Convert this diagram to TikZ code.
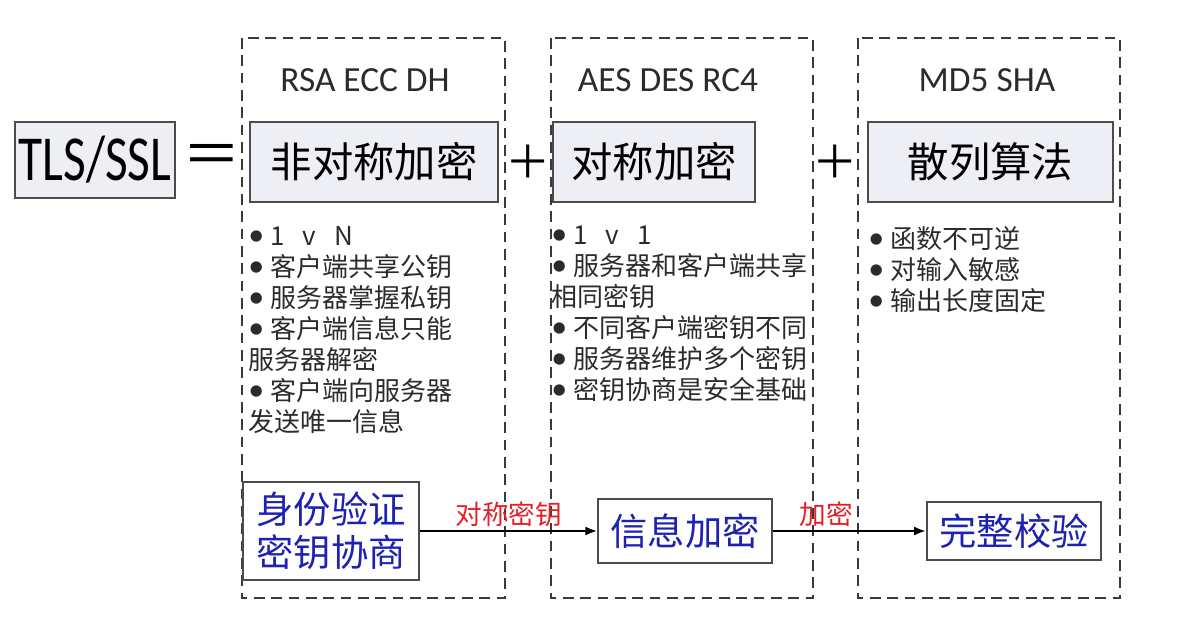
\documentclass[tikz,border=0pt]{standalone}
\usepackage{fontspec}
\setmainfont{Carlito}
\newfontfamily\cjk{Noto Sans CJK SC}
\usepackage{tikz}
\usetikzlibrary{arrows.meta, positioning}
\definecolor{boxfill}{HTML}{EDEFF5}
\definecolor{frame}{HTML}{3A3A3A}
\definecolor{listtext}{HTML}{2B2B2B}
\definecolor{keyblue}{HTML}{1E22B0}
\definecolor{keyred}{HTML}{E3202A}
\newcommand{\bul}{{\rmfamily\fontsize{24}{24}\selectfont •}\ }

\begin{document}
\begin{tikzpicture}[
			x=0.75pt, y=-0.75pt,
			group/.style={draw=frame, line width=1.7pt, dash pattern=on 8pt off 5pt},
			head/.style={font=\fontsize{26.5}{28}\selectfont, text=listtext},
			algo/.style={draw=gray!60!black, fill=boxfill, line width=1.1pt, inner sep=0pt, minimum height=60pt, font=\cjk\fontsize{31}{34}\selectfont},
			sign/.style={inner sep=0pt, font=\cjk},
			points/.style={anchor=north west, align=left, inner sep=0pt, text=listtext, font=\cjk\fontsize{19.5}{23.25}\selectfont},
			stepbox/.style={draw=gray!60!black, fill=white, line width=1.3pt, inner sep=0pt, align=center, text=keyblue, font=\cjk\fontsize{28}{32}\selectfont},
			tag/.style={text=keyred, inner sep=2pt, font=\cjk\fontsize{20}{22}\selectfont},
			arrow/.style={-{Latex[length=3.2mm, width=2.4mm]}, line width=2pt}
		]
		\useasboundingbox (0,0) rectangle (1180,626);
		% dashed groups
		\draw[group] (242,38) rectangle (505,598);
		\draw[group] (551,38) rectangle (813,598);
		\draw[group] (858,38) rectangle (1120,598);
		% top row
		\node[algo, minimum width=120pt, minimum height=57pt, font=\fontsize{37}{38}\selectfont] (tls) at (95,160) {\scalebox{1}[1.3]{TLS/SSL}};
		\node[sign, font=\cjk\fontsize{44}{44}\selectfont] (eq) at (212,160) {＝};
		\node[algo, minimum width=186pt] (asym) at (374,162) {非对称加密};
		\node[sign, font=\cjk\fontsize{34}{34}\selectfont] (plus1) at (528,162) {＋};
		\node[algo, minimum width=151.5pt] (sym) at (654,162) {对称加密};
		\node[sign, font=\cjk\fontsize{34}{34}\selectfont] (plus2) at (835,162) {＋};
		\node[algo, minimum width=183.75pt] (hash) at (990.5,162) {散列算法};
		% algorithm names
		\node[head] (asymalg) at (365,80) {RSA ECC DH};
		\node[head] (symalg) at (668,80) {AES DES RC4};
		\node[head] (hashalg) at (987,80) {MD5 SHA};
		% notes
		\node[points] (asymnote) at (248,226) {\bul 1\hspace{0.7em}v\hspace{0.7em}N\\\bul 客户端共享公钥\\\bul 服务器掌握私钥\\\bul 客户端信息只能\\服务器解密\\\bul 客户端向服务器\\发送唯一信息};
		\node[points] (symnote) at (551,226) {\bul 1\hspace{0.7em}v\hspace{0.7em}1\\\bul 服务器和客户端共享\\相同密钥\\\bul 不同客户端密钥不同\\\bul 服务器维护多个密钥\\\bul 密钥协商是安全基础};
		\node[points] (hashnote) at (868,226) {\bul 函数不可逆\\\bul 对输入敏感\\\bul 输出长度固定};
		% bottom row
		\node[stepbox, minimum width=132pt, minimum height=73.5pt] (auth) at (331,531) {身份验证\\密钥协商};
		\node[stepbox, minimum width=130pt, minimum height=48pt] (enc) at (685,531) {信息加密};
		\node[stepbox, minimum width=130.5pt, minimum height=44pt] (check) at (1014,531) {完整校验};
		\draw[arrow] (auth) -- node[tag, above] {对称密钥} (enc);
		\draw[arrow] (enc) -- node[tag, above, pos=0.35] {加密} (check);
	\end{tikzpicture}
\end{document}
